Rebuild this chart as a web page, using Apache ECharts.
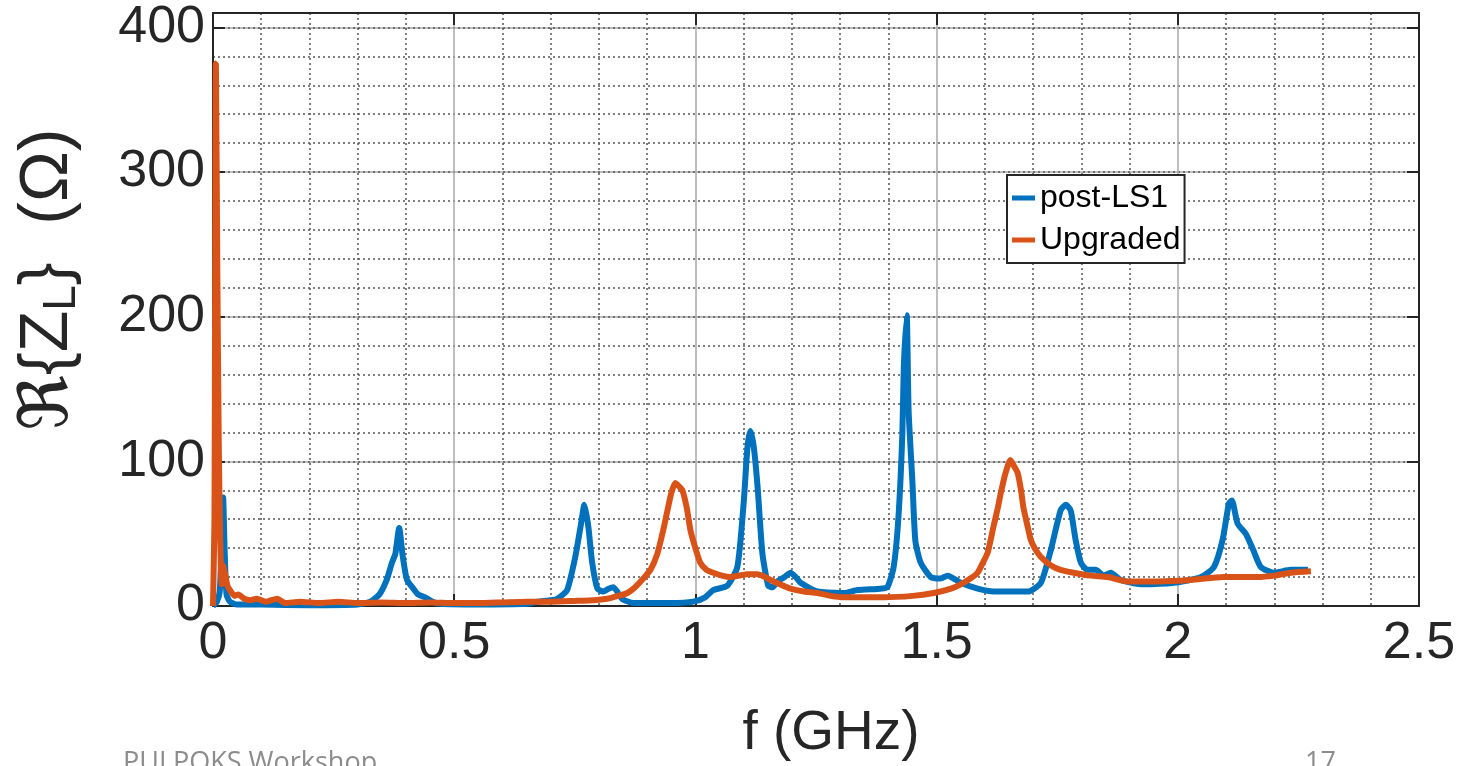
<!DOCTYPE html>
<html>
<head>
<meta charset="utf-8">
<script src="https://cdn.jsdelivr.net/npm/echarts@6/dist/echarts.min.js"></script>
<style>
  html, body { margin: 0; padding: 0; background: #fff; }
  #main { width: 1481px; height: 766px; }
</style>
</head>
<body>
<div id="main"></div>
<script>
// longitudinal impedance: [f (GHz), Re{Z_L} (Ohm)]
var postLS1 = [
  [0, 0], [0.008, 3], [0.014, 10], [0.018, 45], [0.021, 75], [0.024, 40], [0.028, 8], [0.035, 3],
  [0.05, 1], [0.1, 1], [0.2, 0.5], [0.3, 1], [0.326, 3], [0.345, 8], [0.36, 18], [0.371, 30],
  [0.378, 36], [0.386, 54], [0.393, 35], [0.402, 18], [0.413, 13], [0.425, 8], [0.44, 6], [0.455, 3],
  [0.47, 1.5], [0.55, 1], [0.65, 1.5], [0.672, 3], [0.7, 4], [0.714, 5], [0.734, 11], [0.751, 34],
  [0.762, 55], [0.77, 70], [0.778, 55], [0.786, 30], [0.797, 12], [0.809, 10], [0.82, 12], [0.83, 13],
  [0.848, 5], [0.872, 2], [0.9, 2], [0.95, 2], [0.996, 3], [1.02, 6], [1.037, 11], [1.066, 14],
  [1.087, 27], [1.1, 71], [1.108, 110], [1.114, 121], [1.121, 110], [1.129, 82], [1.139, 36], [1.151, 14],
  [1.16, 13], [1.17, 17], [1.185, 20], [1.197, 23], [1.208, 20], [1.218, 16], [1.253, 10], [1.307, 9],
  [1.336, 11], [1.384, 12], [1.398, 13], [1.411, 27], [1.421, 62], [1.429, 119], [1.432, 165], [1.438, 201],
  [1.442, 135], [1.45, 85], [1.456, 45], [1.467, 30], [1.488, 20], [1.508, 19], [1.523, 21], [1.55, 16],
  [1.585, 12], [1.618, 10], [1.689, 10], [1.716, 16], [1.737, 39], [1.757, 66], [1.768, 70], [1.778, 66],
  [1.788, 46], [1.799, 30], [1.813, 25], [1.83, 25], [1.846, 21], [1.861, 23], [1.882, 18], [1.923, 15],
  [1.992, 16], [2.048, 20], [2.075, 27], [2.093, 46], [2.106, 71], [2.112, 73], [2.124, 57], [2.141, 50],
  [2.156, 39], [2.172, 27], [2.199, 23], [2.234, 25], [2.27, 25]
];

var upgraded = [
  [0, 0], [0.003, 60], [0.006, 375], [0.009, 230], [0.012, 110], [0.015, 45], [0.018, 15], [0.021, 28],
  [0.025, 22], [0.03, 14], [0.035, 11], [0.045, 7], [0.052, 8], [0.065, 5], [0.077, 4], [0.091, 5],
  [0.11, 3], [0.133, 5], [0.15, 2], [0.18, 3], [0.22, 2], [0.26, 3], [0.3, 2], [0.35, 2.5],
  [0.4, 2], [0.45, 2.5], [0.5, 2], [0.55, 2], [0.6, 2.5], [0.65, 3], [0.7, 3], [0.75, 3.5],
  [0.79, 4], [0.817, 5], [0.84, 7], [0.859, 9], [0.875, 13], [0.892, 19], [0.907, 25], [0.921, 36],
  [0.933, 52], [0.942, 66], [0.95, 78], [0.958, 85], [0.965, 83], [0.973, 80], [0.982, 68], [0.99, 52],
  [1.0, 40], [1.01, 30], [1.023, 25], [1.037, 23], [1.055, 21], [1.073, 20], [1.09, 21], [1.108, 22],
  [1.129, 22], [1.145, 20], [1.156, 18], [1.175, 15], [1.197, 12], [1.225, 10], [1.253, 9], [1.28, 7],
  [1.307, 6], [1.35, 6], [1.39, 6], [1.45, 7], [1.494, 9], [1.53, 12], [1.55, 15], [1.57, 19],
  [1.585, 23], [1.596, 30], [1.606, 37], [1.618, 55], [1.627, 68], [1.633, 78], [1.643, 92], [1.653, 101],
  [1.66, 97], [1.668, 92], [1.675, 80], [1.68, 68], [1.688, 56], [1.695, 46], [1.705, 39], [1.716, 34],
  [1.737, 28], [1.757, 25], [1.784, 23], [1.82, 21], [1.855, 20], [1.896, 17], [1.959, 17], [2.027, 18],
  [2.095, 20], [2.166, 20], [2.2, 21], [2.234, 23], [2.276, 24]
];

var seriesNames = ["post-LS1", "Upgraded"];
var seriesColors = ["#0072BD", "#D95319"];

var axisColor = "#262626";
var fontFam = "'Liberation Sans', Arial, 'DejaVu Sans', sans-serif";

var myChart = echarts.init(document.getElementById("main"));

var option = {
  animation: false,
  backgroundColor: "#fff",
  textStyle: { fontFamily: fontFam },
  grid: { left: 213, right: 62, top: 13, bottom: 160, containLabel: false },
  legend: {
    orient: "vertical",
    left: 1007,
    top: 175,
    padding: [5, 4, 5, 5],
    backgroundColor: "#fff",
    borderColor: axisColor,
    borderWidth: 2,
    itemWidth: 23,
    itemHeight: 5,
    itemGap: 6,
    icon: "rect",
    textStyle: { fontSize: 32, lineHeight: 36, color: "#000", fontFamily: fontFam },
    data: seriesNames
  },
  xAxis: [
    {
      type: "value",
      min: 0,
      max: 2.5,
      interval: 0.5,
      name: "f (GHz)",
      nameLocation: "middle",
      nameGap: 100,
      nameTextStyle: { fontSize: 55, color: axisColor, fontFamily: fontFam, padding: [0, 0, 0, 30] },
      axisLine: { show: true, onZero: false, lineStyle: { color: axisColor, width: 2 } },
      axisTick: { inside: true, length: 12, lineStyle: { color: axisColor, width: 2 } },
      axisLabel: { fontSize: 52, color: axisColor, margin: 12 },
      splitLine: { show: true, lineStyle: { color: "#a8a8a8", width: 1.5 } },
      minorTick: { show: false, splitNumber: 5 },
      minorSplitLine: { show: true, lineStyle: { color: "#555", width: 1.5, type: [2, 3] } }
    },
    {
      // mirrored top edge with ticks
      type: "value",
      position: "top",
      min: 0,
      max: 2.5,
      interval: 0.5,
      axisLine: { show: true, onZero: false, lineStyle: { color: axisColor, width: 2 } },
      axisTick: { inside: true, length: 12, lineStyle: { color: axisColor, width: 2 } },
      axisLabel: { show: false },
      splitLine: { show: false }
    }
  ],
  yAxis: [
    {
      type: "value",
      min: 0,
      max: 410,
      interval: 100,
      name: "ℜ{Z{sub|L}}  (Ω)",
      nameLocation: "middle",
      nameRotate: 90,
      nameGap: 128,
      nameTextStyle: {
        fontSize: 68,
        lineHeight: 74,
        color: axisColor,
        fontFamily: fontFam,
        padding: [0, 0, 0, 60],
        rich: {
          sub: { fontSize: 46, color: axisColor, verticalAlign: "bottom", lineHeight: 36 }
        }
      },
      axisLine: { show: true, onZero: false, lineStyle: { color: axisColor, width: 2 } },
      axisTick: { inside: true, length: 12, lineStyle: { color: axisColor, width: 2 } },
      axisLabel: {
        fontSize: 52,
        color: axisColor,
        margin: 8,
        padding: [10, 0, 0, 0],
        formatter: function (v) { return v % 100 === 0 ? String(v) : ""; }
      },
      splitLine: { show: true, lineStyle: { color: "#a8a8a8", width: 1.5 } }
    },
    {
      // minor dotted grid every 20
      type: "value",
      min: 0,
      max: 410,
      interval: 20,
      position: "left",
      axisLine: { show: false },
      axisTick: { show: false },
      axisLabel: { show: false },
      splitLine: { show: true, lineStyle: { color: "#555", width: 1.5, type: [2, 3] } }
    },
    {
      // mirrored right edge with ticks
      type: "value",
      min: 0,
      max: 410,
      interval: 100,
      position: "right",
      axisLine: { show: true, onZero: false, lineStyle: { color: axisColor, width: 2 } },
      axisTick: { inside: true, length: 12, lineStyle: { color: axisColor, width: 2 } },
      axisLabel: { show: false },
      splitLine: { show: false }
    }
  ],
  series: [
    {
      name: seriesNames[0],
      type: "line",
      data: postLS1,
      showSymbol: false,
      symbol: "none",
      smooth: 0.2,
      color: seriesColors[0],
      lineStyle: { width: 6, color: seriesColors[0] },
      z: 3
    },
    {
      name: seriesNames[1],
      type: "line",
      data: upgraded,
      showSymbol: false,
      symbol: "none",
      smooth: 0.2,
      color: seriesColors[1],
      lineStyle: { width: 6, color: seriesColors[1] },
      z: 4
    }
  ],
  graphic: [
    {
      type: "text",
      left: 123,
      top: 750,
      style: { text: "PULPOKS Workshop", fontSize: 27, fill: "#8c8c8c", fontFamily: "'Open Sans', sans-serif" }
    },
    {
      type: "text",
      left: 1305,
      top: 750,
      style: { text: "17", fontSize: 27, fill: "#8c8c8c", fontFamily: "'Open Sans', sans-serif" }
    }
  ]
};

myChart.setOption(option);
</script>
</body>
</html>
